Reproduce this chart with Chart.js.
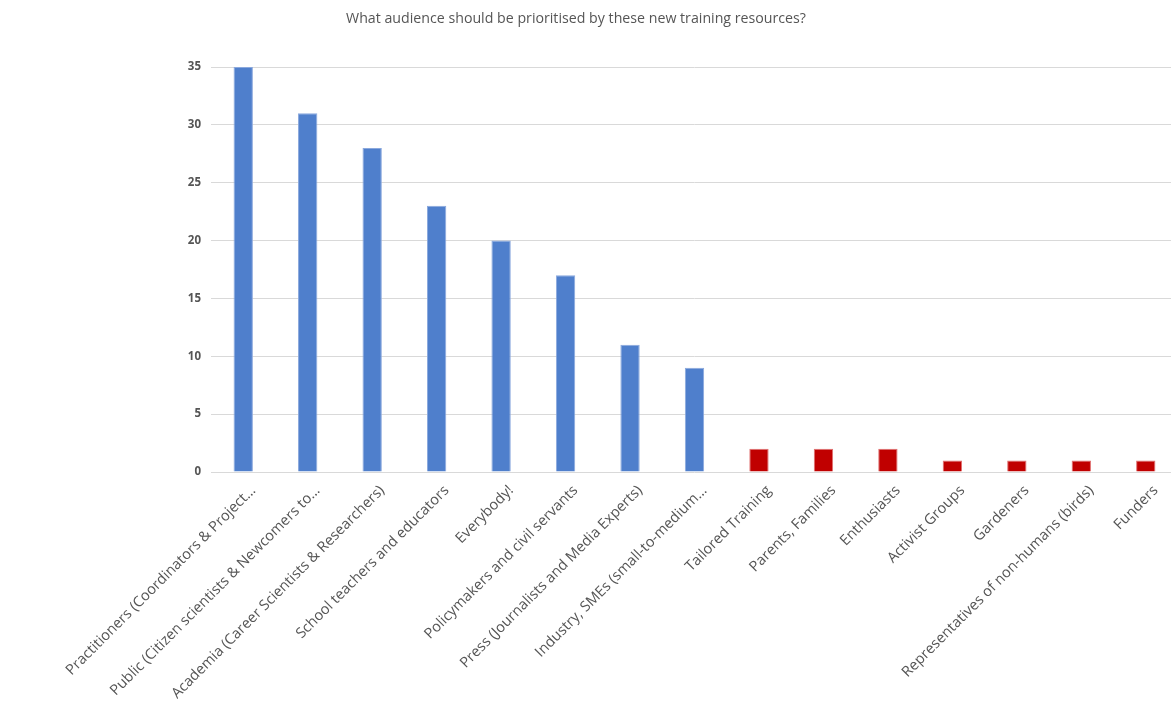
<!DOCTYPE html>
<html>
<head>
<meta charset="utf-8">
<title>Training resources audience</title>
<script src="https://cdn.jsdelivr.net/npm/chart.js@4/dist/chart.umd.min.js"></script>
<style>
    html, body { margin: 0; padding: 0; background: #fff; overflow: hidden; }
    #wrap { position: relative; width: 1178px; height: 720px; }
</style>
</head>
<body>
<div id="wrap"><canvas id="chart"></canvas></div>
<script>
// Chart data
const chartTitle = 'What audience should be prioritised by these new training resources?';
const categories = [
    'Practitioners (Coordinators & Project…',
    'Public (Citizen scientists & Newcomers to…',
    'Academia (Career Scientists & Researchers)',
    'School teachers and educators',
    'Everybody!',
    'Policymakers and civil servants',
    'Press (Journalists and Media Experts)',
    'Industry, SMEs (small-to-medium…',
    'Tailored Training',
    'Parents, Families',
    'Enthusiasts',
    'Activist Groups',
    'Gardeners',
    'Representatives of non-humans (birds)',
    'Funders'
];
const responses = [35, 31, 28, 23, 20, 17, 11, 9, 2, 2, 2, 1, 1, 1, 1];
// first 8 answers came from the list, the rest were write-ins (red)
const writeIn = [false, false, false, false, false, false, false, false, true, true, true, true, true, true, true];
const yTicks = [0, 5, 10, 15, 20, 25, 30, 35];

const BLUE = '#4F7FCC';
const RED = '#C00000';
const TEXT = '#555555';
const FONT = "'Open Sans', 'Noto Sans', sans-serif";

// Title drawn at a fixed spot, like in the exported image
const titlePlugin = {
    id: 'fixedTitle',
    afterDraw(chart) {
        const c = chart.ctx;
        c.save();
        c.font = '14.2px ' + FONT;
        c.fillStyle = TEXT;
        c.textAlign = 'center';
        c.textBaseline = 'middle';
        c.fillText(chartTitle, 576, 19);
        c.restore();
    }
};

const ctx = document.getElementById('chart').getContext('2d');

new Chart(ctx, {
    type: 'bar',
    data: {
        labels: categories,
        datasets: [{
            data: responses,
            backgroundColor: writeIn.map(w => w ? RED : BLUE),
            borderColor: writeIn.map(w => w ? '#E07070' : '#8AA8DD'),
            borderWidth: 1,
            barPercentage: 0.3,
            categoryPercentage: 1
        }]
    },
    options: {
        responsive: true,
        maintainAspectRatio: false,
        animation: false,
        layout: { padding: { top: 67, right: 0, bottom: 0, left: 0 } },
        plugins: {
            legend: { display: false },
            title: { display: false },
            tooltip: { enabled: false }
        },
        scales: {
            x: {
                grid: { display: false },
                border: { display: false },
                ticks: {
                    autoSkip: false,
                    maxRotation: 45,
                    minRotation: 45,
                    padding: 2,
                    labelOffset: 10,
                    color: TEXT,
                    font: { family: FONT, size: 14.6 }
                },
                afterFit(scale) { scale.height = 248; }
            },
            y: {
                min: 0,
                max: 35,
                afterBuildTicks(scale) { scale.ticks = yTicks.map(v => ({ value: v })); },
                grid: { color: '#D9D9D9', lineWidth: 1, drawTicks: false },
                border: { display: false },
                ticks: {
                    padding: 10,
                    color: TEXT,
                    font: { family: FONT, size: 11.5, weight: 'bold' }
                },
                afterFit(scale) { scale.width = 211; }
            }
        }
    },
    plugins: [titlePlugin]
});
</script>
</body>
</html>
